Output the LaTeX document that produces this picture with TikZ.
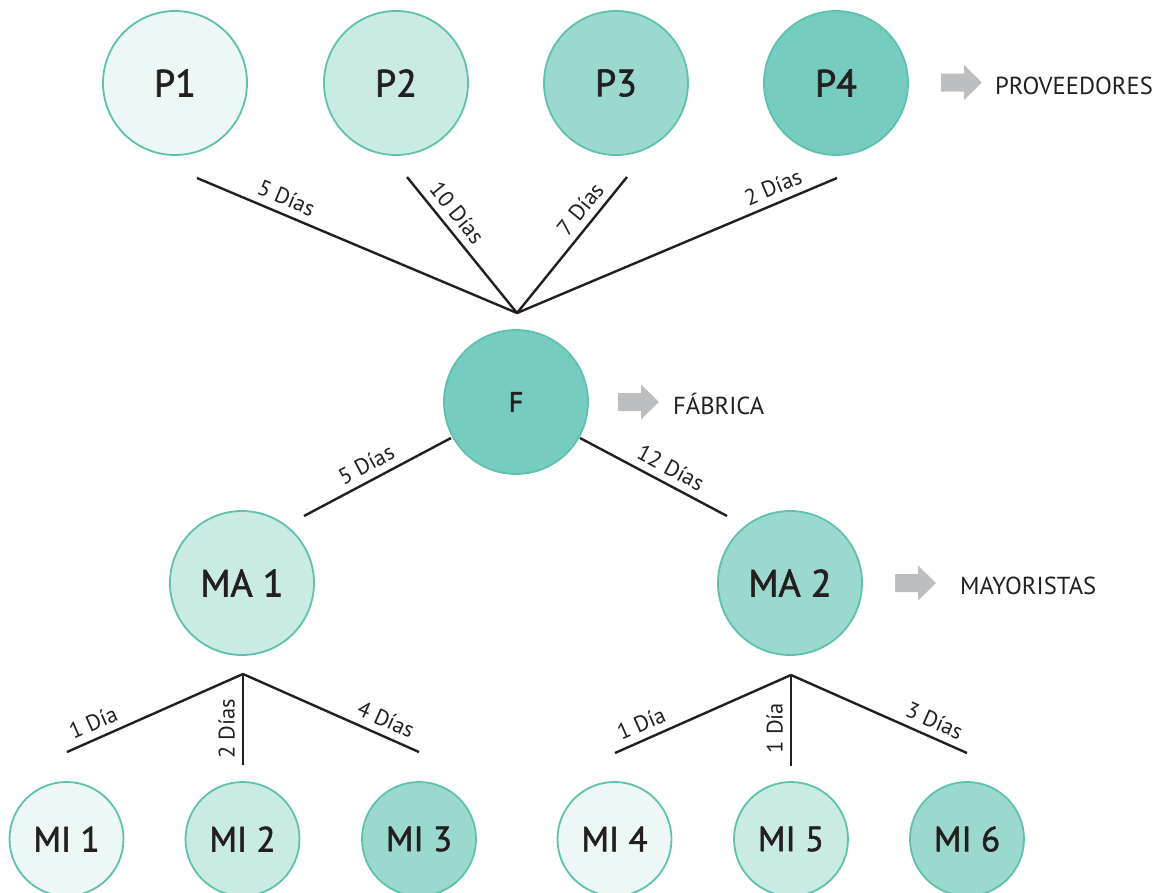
\documentclass[tikz,border=0pt]{standalone}
\usepackage{fontspec}
\setmainfont{PT Sans}
\newfontfamily\semib[FakeBold=1.6]{PT Sans}
\definecolor{cA}{HTML}{EDF7F5}
\definecolor{cB}{HTML}{CAEBE4}
\definecolor{cC}{HTML}{9BD9CE}
\definecolor{cD}{HTML}{76CCBF}
\definecolor{bordc}{HTML}{5DC1AE}
\definecolor{agray}{HTML}{BCBEC0}
\definecolor{txt}{HTML}{231F20}
\begin{document}
\begin{tikzpicture}[x=1pt,y=-1pt,
  bigc/.style={circle, draw=bordc, line width=1.8pt, minimum size=144pt, inner sep=0pt, text=txt, font=\semib\fontsize{38}{38}\selectfont},
  smallc/.style={circle, draw=bordc, line width=1.8pt, minimum size=114pt, inner sep=0pt, text=txt, font=\semib\fontsize{35}{35}\selectfont},
  conn/.style={draw=txt, line width=2.4pt},
  lab/.style={text=txt, font=\fontsize{22.5}{22.5}\selectfont, inner sep=0pt, sloped, above=7pt},
  cat/.style={text=txt, font=\fontsize{24.6}{24.6}\selectfont, anchor=base west, inner sep=0pt},
  garrow/.pic={\fill[agray] (0,-9) -- (23,-9) -- (23,-17.5) -- (41,0) -- (23,17.5) -- (23,9) -- (0,9) -- cycle;}
]
\useasboundingbox (0,0) rectangle (1165,892);

% suppliers
\node[bigc, fill=cA] (P1) at (175,83) {P1};
\node[bigc, fill=cB] (P2) at (396,83) {P2};
\node[bigc, fill=cC] (P3) at (616,83) {P3};
\node[bigc, fill=cD] (P4) at (836,83) {P4};
\pic at (941,82.5) {garrow};
\node[cat] (tP) at (995,94) {PROVEEDORES};

% factory
\node[bigc, fill=cD, font=\semib\fontsize{28}{28}\selectfont] (F) at (516,402) {F};
\pic at (618,402) {garrow};
\node[cat] (tF) at (673,414) {FÁBRICA};

% wholesalers
\node[bigc, fill=cB] (MA1) at (242,583) {MA 1};
\node[bigc, fill=cC] (MA2) at (790,583) {MA 2};
\pic at (895,583) {garrow};
\node[cat] (tM) at (960,594) {MAYORISTAS};

% retailers
\node[smallc, fill=cA] (MI1) at (66.5,839) {MI 1};
\node[smallc, fill=cB] (MI2) at (242.5,839) {MI 2};
\node[smallc, fill=cC] (MI3) at (419,839) {MI 3};
\node[smallc, fill=cA] (MI4) at (614.5,839) {MI 4};
\node[smallc, fill=cB] (MI5) at (791,839) {MI 5};
\node[smallc, fill=cC] (MI6) at (967,839) {MI 6};

% top fan
\coordinate (apx) at (517,313);
\coordinate (e1) at (197,178);
\coordinate (e2) at (407,177);
\coordinate (e3) at (627,177);
\coordinate (e4) at (837,178);
\draw[conn] (e1) -- (apx) node[lab, pos=0.26] {5 Días};
\draw[conn] (e2) -- (apx) node[lab, pos=0.34] {10 Días};
\draw[conn] (apx) -- (e3) node[lab, pos=0.69] {7 Días};
\draw[conn] (apx) -- (e4) node[lab, pos=0.82] {2 Días};

% factory to wholesalers
\coordinate (f1) at (304,516);
\coordinate (f2) at (451,438);
\coordinate (f3) at (580,438);
\coordinate (f4) at (727,516);
\draw[conn] (f1) -- (f2) node[lab, pos=0.475] {5 Días};
\draw[conn] (f3) -- (f4) node[lab, pos=0.566] {12 Días};

% MA1 fan
\coordinate (a1) at (243,674);
\coordinate (a1l) at (67,752);
\coordinate (a1m) at (243,765);
\coordinate (a1r) at (419,752);
\draw[conn] (a1l) -- (a1) node[lab, pos=0.186] {1 Día};
\draw[conn] (a1m) -- (a1) node[lab, pos=0.396] {2 Días};
\draw[conn] (a1) -- (a1r) node[lab, pos=0.775] {4 Días};

% MA2 fan
\coordinate (a2) at (791,675);
\coordinate (a2l) at (615,753);
\coordinate (a2m) at (791,766);
\coordinate (a2r) at (967,753);
\draw[conn] (a2l) -- (a2) node[lab, pos=0.186] {1 Día};
\draw[conn] (a2m) -- (a2) node[lab, pos=0.418] {1 Día};
\draw[conn] (a2) -- (a2r) node[lab, pos=0.778] {3 Días};
\end{tikzpicture}
\end{document}
